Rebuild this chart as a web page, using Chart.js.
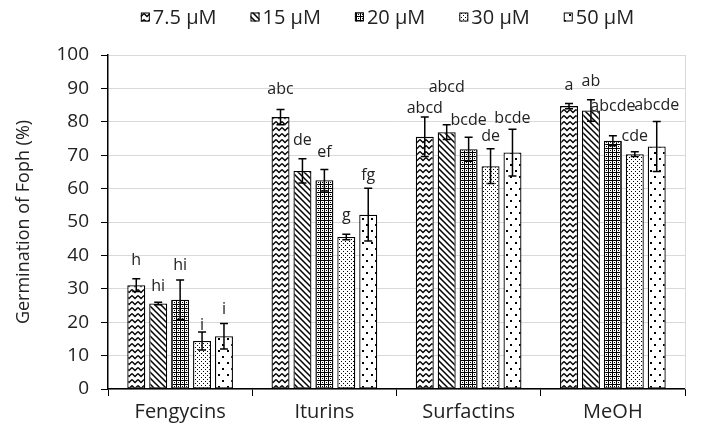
<!DOCTYPE html>
<html>
<head>
<meta charset="utf-8">
<script src="https://cdn.jsdelivr.net/npm/chart.js@4/dist/chart.umd.min.js"></script>
<style>
  html, body { margin: 0; padding: 0; background: #fff; }
  #wrap { width: 701px; height: 434px; }
</style>
</head>
<body>
<div id="wrap"><canvas id="germChart" width="701" height="434"></canvas></div>
<script>
// ============================================
// Data
// ============================================

const CATEGORIES = ['Fengycins', 'Iturins', 'Surfactins', 'MeOH'];
const SERIES_NAMES = ['7.5 µM', '15 µM', '20 µM', '30 µM', '50 µM'];

// Germination (%) per series, one value per category
const VALUES_7_5 = [31.1, 81.4, 75.5, 84.7];
const VALUES_15 = [25.6, 65.3, 76.9, 83.4];
const VALUES_20 = [26.7, 62.5, 71.8, 74.3];
const VALUES_30 = [14.4, 45.5, 66.7, 70.3];
const VALUES_50 = [15.8, 52.2, 70.8, 72.6];

// Error bar half-lengths
const ERR_7_5 = [1.9, 2.3, 5.9, 0.8];
const ERR_15 = [0.4, 3.6, 2.2, 3.2];
const ERR_20 = [5.9, 3.2, 3.6, 1.5];
const ERR_30 = [2.7, 0.8, 5.2, 0.7];
const ERR_50 = [3.8, 7.9, 7.0, 7.5];

// Significance letters and the value level they sit at
const LETTERS_7_5 = ['h', 'abc', 'abcd', 'a'];
const LETTERS_15 = ['hi', 'de', 'abcd', 'ab'];
const LETTERS_20 = ['hi', 'ef', 'bcde', 'abcde'];
const LETTERS_30 = ['i', 'g', 'de', 'cde'];
const LETTERS_50 = ['i', 'fg', 'bcde', 'abcde'];

const LETTER_LEVEL_7_5 = [38.6, 89.7, 84.0, 90.8];
const LETTER_LEVEL_15 = [30.8, 74.3, 90.2, 92.0];
const LETTER_LEVEL_20 = [37.1, 70.8, 80.5, 84.7];
const LETTER_LEVEL_30 = [18.9, 52.1, 75.7, 75.5];
const LETTER_LEVEL_50 = [23.9, 63.8, 81.0, 85.0];

const Y_MIN = 0;
const Y_MAX = 100;
const Y_STEP = 10;

const FONT = '"Open Sans", "Noto Sans", sans-serif';

// ============================================
// Fill patterns (Excel-like hatches)
// ============================================

function makeTile(w, h, draw) {
  const c = document.createElement('canvas');
  c.width = w;
  c.height = h;
  const g = c.getContext('2d');
  g.fillStyle = '#fff';
  g.fillRect(0, 0, w, h);
  g.strokeStyle = '#000';
  g.fillStyle = '#000';
  draw(g, w, h);
  return document.createElement('canvas').getContext('2d').createPattern(c, 'repeat');
}

const PATTERNS = [
  // 7.5 µM - zigzag
  makeTile(6, 6, (g) => {
    g.lineWidth = 1.3;
    g.beginPath();
    g.moveTo(0, 1.5);
    g.lineTo(3, 4.5);
    g.lineTo(6, 1.5);
    g.stroke();
  }),
  // 15 µM - wide downward diagonal
  makeTile(6, 6, (g) => {
    g.lineWidth = 1.5;
    g.beginPath();
    g.moveTo(-1, -1); g.lineTo(7, 7);
    g.moveTo(-1, 5); g.lineTo(1, 7);
    g.moveTo(5, -1); g.lineTo(7, 1);
    g.stroke();
  }),
  // 20 µM - small grid with centre dots
  makeTile(4, 4, (g) => {
    g.fillRect(0, 0, 4, 1);
    g.fillRect(0, 0, 1, 4);
    g.fillRect(2, 2, 1, 1);
  }),
  // 30 µM - fine staggered dots
  makeTile(4, 4, (g) => {
    g.fillRect(1, 1, 1, 1);
    g.fillRect(3, 3, 1, 1);
  }),
  // 50 µM - sparse dots
  makeTile(9, 12, (g) => {
    g.fillRect(2, 2, 2, 2);
    g.fillRect(6, 8, 2, 2);
  }),
];

const SERIES_VALUES = [VALUES_7_5, VALUES_15, VALUES_20, VALUES_30, VALUES_50];
const SERIES_ERRORS = [ERR_7_5, ERR_15, ERR_20, ERR_30, ERR_50];
const SERIES_LETTERS = [LETTERS_7_5, LETTERS_15, LETTERS_20, LETTERS_30, LETTERS_50];
const SERIES_LETTER_LEVELS = [LETTER_LEVEL_7_5, LETTER_LEVEL_15, LETTER_LEVEL_20, LETTER_LEVEL_30, LETTER_LEVEL_50];

// ============================================
// Plugins
// ============================================

/**
 * Error bars with caps on both ends
 */
const errorBars = {
  id: 'errorBars',
  afterDatasetsDraw(chart) {
    const ctx = chart.ctx;
    const y = chart.scales.y;
    ctx.save();
    ctx.strokeStyle = '#000';
    ctx.lineWidth = 1.5;
    chart.data.datasets.forEach((ds, i) => {
      const meta = chart.getDatasetMeta(i);
      meta.data.forEach((bar, j) => {
        const v = ds.data[j];
        const e = SERIES_ERRORS[i][j];
        const top = y.getPixelForValue(v + e);
        const bot = y.getPixelForValue(v - e);
        const cap = 4;
        ctx.beginPath();
        ctx.moveTo(bar.x, top); ctx.lineTo(bar.x, bot);
        ctx.moveTo(bar.x - cap, top); ctx.lineTo(bar.x + cap, top);
        ctx.moveTo(bar.x - cap, bot); ctx.lineTo(bar.x + cap, bot);
        ctx.stroke();
      });
    });
    ctx.restore();
  },
};

/**
 * Significance letters over the bars
 */
const letterLabels = {
  id: 'letterLabels',
  afterDatasetsDraw(chart) {
    const ctx = chart.ctx;
    const y = chart.scales.y;
    ctx.save();
    ctx.fillStyle = '#222';
    ctx.font = '16px ' + FONT;
    ctx.textAlign = 'center';
    ctx.textBaseline = 'middle';
    chart.data.datasets.forEach((ds, i) => {
      const meta = chart.getDatasetMeta(i);
      meta.data.forEach((bar, j) => {
        ctx.fillText(SERIES_LETTERS[i][j], bar.x, y.getPixelForValue(SERIES_LETTER_LEVELS[i][j]));
      });
    });
    ctx.restore();
  },
};

/**
 * Light frame on the right of the plot area
 */
const plotFrame = {
  id: 'plotFrame',
  beforeDatasetsDraw(chart) {
    const { ctx, chartArea } = chart;
    ctx.save();
    ctx.strokeStyle = '#d9d9d9';
    ctx.lineWidth = 1;
    ctx.beginPath();
    ctx.moveTo(chartArea.right + 0.5, chartArea.top);
    ctx.lineTo(chartArea.right + 0.5, chartArea.bottom);
    ctx.stroke();
    ctx.restore();
  },
};

/**
 * Legend row across the top, centred over the plot
 */
const topLegend = {
  id: 'topLegend',
  afterDraw(chart) {
    const ctx = chart.ctx;
    const area = chart.chartArea;
    const box = 9;
    const gap = 3;
    const spacing = 34;
    ctx.save();
    ctx.font = '20px ' + FONT;
    ctx.textBaseline = 'middle';
    const widths = SERIES_NAMES.map((n) => box + gap + ctx.measureText(n).width);
    const total = widths.reduce((a, b) => a + b, 0) + spacing * (widths.length - 1);
    let x = (area.left + area.right) / 2 - total / 2 - 9;
    const yMid = 17;
    SERIES_NAMES.forEach((name, i) => {
      ctx.fillStyle = PATTERNS[i];
      ctx.fillRect(x, yMid - box / 2, box, box);
      ctx.strokeStyle = '#000';
      ctx.lineWidth = 1;
      ctx.strokeRect(x + 0.5, yMid - box / 2 + 0.5, box - 1, box - 1);
      ctx.fillStyle = '#222';
      ctx.fillText(name, x + box + gap, yMid + 1);
      x += widths[i] + spacing;
    });
    ctx.restore();
  },
};

// ============================================
// Chart
// ============================================

function initChart() {
  const ctx = document.getElementById('germChart').getContext('2d');

  new Chart(ctx, {
    type: 'bar',
    data: {
      labels: CATEGORIES,
      datasets: SERIES_NAMES.map((name, i) => ({
        label: name,
        data: SERIES_VALUES[i],
        backgroundColor: PATTERNS[i],
        borderColor: '#000',
        borderWidth: 1.3,
        borderSkipped: false,
        categoryPercentage: 0.76,
        barPercentage: 0.82,
      })),
    },
    options: {
      responsive: false,
      animation: false,
      events: [],
      layout: {
        padding: { top: 55, right: 16, bottom: 0, left: 0 },
      },
      plugins: {
        legend: { display: false },
        tooltip: { enabled: false },
      },
      scales: {
        y: {
          min: Y_MIN,
          max: Y_MAX,
          afterFit(scale) { scale.width = 108; },
          border: { color: '#000', width: 1.5 },
          grid: {
            color: '#d9d9d9',
            lineWidth: 1,
            tickColor: '#000',
            tickLength: 7,
          },
          ticks: {
            stepSize: Y_STEP,
            padding: 12,
            color: '#222',
            font: { family: FONT, size: 19 },
          },
          title: {
            display: true,
            text: 'Germination of Foph (%)',
            color: '#222',
            font: { family: FONT, size: 18 },
            padding: { top: 13, bottom: 0 },
          },
        },
        x: {
          afterFit(scale) { scale.height = 45; },
          border: { color: '#000', width: 1.5 },
          grid: {
            offset: true,
            drawOnChartArea: false,
            tickColor: '#000',
            tickLength: 7,
          },
          ticks: {
            padding: 4,
            color: '#222',
            font: { family: FONT, size: 20 },
          },
        },
      },
    },
    plugins: [plotFrame, errorBars, letterLabels, topLegend],
  });
}

initChart();
</script>
</body>
</html>
